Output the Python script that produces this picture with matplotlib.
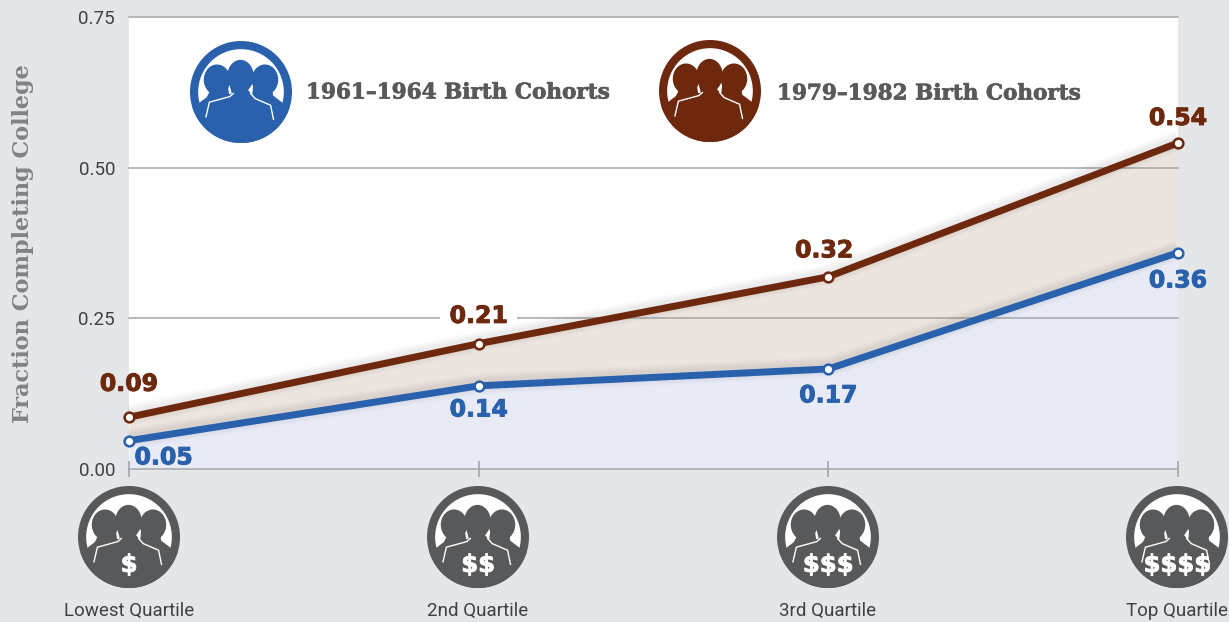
import matplotlib
matplotlib.use("Agg")
import matplotlib.pyplot as plt
import matplotlib.patheffects as pe
from matplotlib.patches import Circle, Ellipse, Polygon, PathPatch
from matplotlib.path import Path
from matplotlib.transforms import Affine2D
import numpy as np

categories = ["Lowest Quartile", "2nd Quartile", "3rd Quartile", "Top Quartile"]
dollars = ["$", "$$", "$$$", "$$$$"]
cohort_early = [0.047, 0.138, 0.166, 0.359]
cohort_late = [0.086, 0.208, 0.319, 0.541]
labels_early = ["0.05", "0.14", "0.17", "0.36"]
labels_late = ["0.09", "0.21", "0.32", "0.54"]
yticks = [0.00, 0.25, 0.50, 0.75]
name_early = "1961–1964 Birth Cohorts"
name_late = "1979–1982 Birth Cohorts"
ylabel = "Fraction Completing College"

BG = "#e5e6e8"
BLUE = "#2a61ad"
BROWN = "#6d280e"
GREY = "#58595b"
GRID = "#a3a5a8"
NARROW = ["Roboto", "DejaVu Sans"]
SLAB = ["DejaVu Serif"]

W, H = 1229, 622
fig = plt.figure(figsize=(W / 100, H / 100), dpi=100, facecolor=BG)
ax = fig.add_axes([129 / W, (H - 469) / H, 1049 / W, 452 / H])
x = np.arange(len(categories))
ax.set_xlim(0, 3)
ax.set_ylim(0, 0.75)
ax.set_facecolor("white")
for s in ax.spines.values():
    s.set_visible(False)

ax.fill_between(x, 0, cohort_early, color="#e8ebf5", lw=0, zorder=1)
ax.fill_between(x, cohort_early, cohort_late, color="#ece4de", lw=0, zorder=1)
ax.set_yticks(yticks, [f"{v:.2f}" for v in yticks], fontfamily=NARROW, fontsize=13.5, color="#3f4042")
ax.set_xticks(x, [""] * len(x))
ax.tick_params(axis="y", length=0, pad=10)
ax.tick_params(axis="x", length=11, width=1.2, color=GRID, direction="inout")
ax.grid(axis="y", color=GRID, lw=1.1, zorder=2)
ax.set_axisbelow(False)
for ln in ax.get_ygridlines():
    ln.set_zorder(2)
    ln.set_clip_on(False)

shadow = [pe.SimpleLineShadow(offset=(0, 1.5), shadow_color="k", alpha=0.016, linewidth=w, capstyle="butt")
          for w in (15, 13, 11, 9, 7)] + [pe.Normal()]
for series, col, z in ((cohort_late, BROWN, 5), (cohort_early, BLUE, 6)):
    ax.plot(x, series, color=col, lw=5, solid_capstyle="round", solid_joinstyle="round",
            zorder=z, clip_on=False, path_effects=shadow)
    ax.plot(x, series, ls="none", marker="o", ms=7, mfc="white", mec=col, mew=1.8, zorder=z, clip_on=False)

# value labels: offsets in points from the data points
late_off = [(0, 24), (0, 20), (-3, 19), (0, 18)]
early_off = [(25, -12), (0, -17), (0, -19), (0, -20)]
for i in x:
    bbox = dict(fc="white", ec="none", pad=7) if i == 1 else None
    for val, lab, off, col, z in ((cohort_late[i], labels_late[i], late_off[i], BROWN, 4),
                                  (cohort_early[i], labels_early[i], early_off[i], BLUE, 7)):
        t = ax.annotate(lab, (i, val), xytext=off, textcoords="offset points",
                        ha="center", va="center", color=col, fontsize=17, fontweight="bold",
                        bbox=bbox if col == BROWN else None, zorder=z, annotation_clip=False)
        t.set_path_effects([pe.withStroke(linewidth=0.7, foreground=col)])

# overlay in pixel coordinates for icons and captions
ov = fig.add_axes([0, 0, 1, 1], facecolor="none")
ov.set_xlim(0, W)
ov.set_ylim(H, 0)
ov.axis("off")


def icon(cx, cy, r, color, dollar=None):
    tf = Affine2D().scale(r, -r).translate(cx, cy) + ov.transData
    outer = Circle((0, 0), 1, fc=color, ec="none", transform=tf, zorder=10)
    ov.add_patch(outer)

    def add(p, z):
        p.set_transform(tf)
        p.set_zorder(z)
        ov.add_patch(p)
        p.set_clip_path(outer)

    add(Circle((0, 0), 0.84, fc="white", ec="none"), 11)
    # lower part of the ring interior is body
    add(Polygon([(-1, -.3), (-.84, -.23), (-.3, -.05), (.3, -.05), (.84, -.23), (1, -.3), (1, -1), (-1, -1)],
                fc=color, ec="none"), 12)
    # side figures
    add(Ellipse((-.47, .24), .52, .6, fc=color, ec="none"), 13)
    add(Polygon([(-.65, .1), (-.62, .0), (-.67, -.1), (-.84, -.23), (-.2, -.25), (-.26, .13), (-.3, .1)],
                fc=color, ec="none"), 13)
    add(Ellipse((.47, .24), .52, .6, fc=color, ec="none"), 13)
    add(Polygon([(.65, .1), (.62, .0), (.63, -.07), (.84, -.23), (.2, -.25), (.24, .13), (.3, .1)],
                fc=color, ec="none"), 13)
    # centre figure, with a white outline down the shoulders
    add(Ellipse((-.01, .31), .52, .64, fc=color, ec="none"), 15)
    add(Polygon([(-.24, .2), (.22, .2), (.14, .03), (.27, -.10), (.57, -.23), (.64, -.6),
                 (-.68, -.6), (-.6, -.17), (-.18, -.03)], fc=color, ec="none"), 15)
    for verts in ([(-.69, -.5), (-.62, -.2), (-.22, -.09), (-.14, -.02)],
                  [(.64, -.55), (.58, -.26), (.28, -.13), (.18, -.02)]):
        add(PathPatch(Path(verts), fc="none", ec="white", lw=1.0), 16)
    if dollar:
        t = ov.text(cx, cy + .55 * r, dollar, color="white", ha="center", va="center",
                    fontsize=17.5, fontweight="bold", zorder=20, parse_math=False)
        t.set_path_effects([pe.withStroke(linewidth=0.6, foreground="white")])


icon(241, 92, 51, BLUE)
icon(710, 91, 51, BROWN)
for tx, ty, name in ((306, 92.5, name_early), (777, 93.5, name_late)):
    t = ov.text(tx, ty, name, family=SLAB, fontweight="bold", fontsize=15.5, color=GREY, va="center")
    t.set_path_effects([pe.withStroke(linewidth=0.5, foreground=GREY)])
t = ov.text(23, 244, ylabel, family=SLAB, fontweight="bold", fontsize=16.1, color="#808285",
            rotation=90, ha="center", va="center")

icon_x = [129, 478, 828, 1177]
for cx, lab, d in zip(icon_x, categories, dollars):
    icon(cx, 537, 51, GREY, d)
    ov.text(cx, 611, lab, family=NARROW, fontsize=13.5, color="#3f4042", ha="center", va="center")

fig.savefig("out.png", dpi=100, facecolor=BG)
